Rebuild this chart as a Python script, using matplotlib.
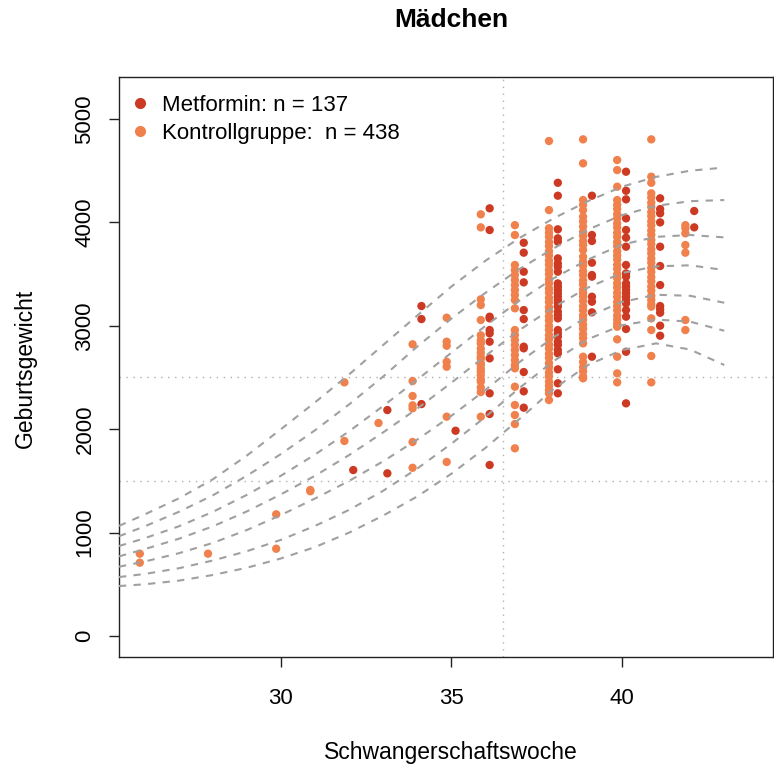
import matplotlib
matplotlib.use("Agg")
import matplotlib.pyplot as plt
from matplotlib.lines import Line2D

plt.rcParams['font.family'] = ['Liberation Sans', 'DejaVu Sans']

# ---------------- data ----------------
title = "Mädchen"
xlabel = "Schwangerschaftswoche"
ylabel = "Geburtsgewicht"
legend_labels = ["Metformin: n = 137", "Kontrollgruppe:  n = 438"]
xticks = [30, 35, 40]
yticks = [0, 1000, 2000, 3000, 4000, 5000]

# percentile curves (weeks, weights)
curve_weeks = [25.25, 26, 27, 28, 29, 30, 31, 32, 33, 34, 35, 36, 37, 38, 39, 40, 41, 42, 43]
p97 = [1065, 1175, 1330, 1515, 1745, 2000, 2260, 2530, 2815, 3100, 3380, 3630, 3850, 4040, 4205, 4345, 4440, 4500, 4530]
p90 = [965, 1060, 1200, 1360, 1550, 1760, 1990, 2240, 2510, 2800, 3070, 3320, 3550, 3750, 3930, 4070, 4160, 4205, 4216]
p75 = [870, 945, 1060, 1200, 1365, 1550, 1755, 1980, 2225, 2480, 2740, 3000, 3245, 3460, 3640, 3785, 3860, 3878, 3855]
p50 = [770, 840, 940, 1060, 1205, 1370, 1550, 1750, 1970, 2200, 2450, 2710, 2960, 3180, 3370, 3510, 3575, 3585, 3539]
p25 = [670, 720, 800, 900, 1025, 1170, 1330, 1500, 1690, 1900, 2130, 2380, 2650, 2890, 3090, 3230, 3300, 3290, 3223]
p10 = [570, 600, 655, 730, 820, 930, 1065, 1220, 1405, 1620, 1860, 2120, 2400, 2660, 2870, 3005, 3060, 3040, 2952]
p3 = [483, 500, 535, 590, 660, 750, 860, 1000, 1165, 1350, 1570, 1820, 2100, 2390, 2620, 2765, 2830, 2770, 2621]

ref_week = 36.5
ref_weights = [1500, 2500]

# Kontrollgruppe weights by gestational week
ctrl_26 = [796, 709]
ctrl_28 = [796]
ctrl_30 = [1177, 844]
ctrl_31 = [1412, 1400]
ctrl_32 = [2453, 1886]
ctrl_33 = [2060]
ctrl_34 = [2821, 2466, 2321, 2231, 2202, 1876, 1627]
ctrl_35 = [3078, 2846, 2807, 2652, 2604, 2121, 1683]
ctrl_36 = [4078, 3952, 3256, 3201, 3056, 2908, 2860, 2830, 2780, 2740, 2701,
           2680, 2637, 2620, 2585, 2556, 2520, 2480, 2460, 2404, 2359, 2121]
ctrl_37 = [3973, 3878, 3588, 3539, 3491, 3443, 3394, 3346, 3298, 3249, 3169,
           2959, 2911, 2862, 2814, 2766, 2717, 2669, 2621, 2589, 2411, 2234,
           2137, 2050, 1815]
ctrl_38 = [4787, 4119, 3943, 3900, 3860, 3810, 3770, 3720, 3680, 3630, 3590,
           3540, 3500, 3450, 3410, 3360, 3320, 3270, 3230, 3180, 3140, 3090,
           3050, 3000, 2960, 2910, 2870, 2820, 2780, 2730, 2690, 2640, 2600,
           2550, 2510, 2460, 2420, 2380, 2347, 2282]
ctrl_39 = [4803, 4571, 4216, 4170, 4119, 4055, 4010, 3960, 3910, 3870, 3820,
           3780, 3733, 3668, 3620, 3580, 3530, 3490, 3440, 3400, 3350, 3314,
           3281, 3240, 3190, 3150, 3100, 3060, 3010, 2970, 2920, 2880, 2830,
           2701, 2650, 2600, 2560, 2510, 2492]
ctrl_40 = [4603, 4506, 4345, 4216, 4170, 4130, 4080, 4040, 3990, 3950, 3900,
           3860, 3810, 3770, 3720, 3680, 3640, 3590, 3550, 3500, 3460, 3410,
           3370, 3320, 3280, 3230, 3190, 3150, 3100, 3060, 3020, 2991, 2869,
           2701, 2540, 2453]
ctrl_41 = [4803, 4442, 4383, 4281, 4240, 4190, 4150, 4100, 4060, 4010, 3970,
           3920, 3880, 3830, 3790, 3740, 3700, 3650, 3610, 3560, 3520, 3470,
           3430, 3380, 3340, 3290, 3250, 3210, 3185, 3072, 2959, 2708, 2453]
ctrl_42 = [3973, 3943, 3894, 3781, 3707, 3056, 2959]

# Metformin weights by gestational week
met_32 = [1605]
met_33 = [2185, 1573]
met_34 = [3191, 3065, 2243]
met_35 = [1985]
met_36 = [4136, 3926, 3088, 3072, 2959, 2927, 2846, 2685, 2347, 2147, 1654]
met_37 = [3803, 3707, 3523, 3420, 3152, 3065, 2798, 2782, 2553, 2366, 2208]
met_38 = [4383, 4258, 3933, 3846, 3813, 3652, 3604, 3571, 3523, 3410, 3378,
          3346, 3314, 3281, 3249, 3217, 3185, 3137, 3104, 3072, 2959, 2927,
          2895, 2846, 2814, 2766, 2733, 2579, 2444, 2347]
met_39 = [4258, 3878, 3820, 3610, 3491, 3475, 3281, 3233, 3130, 2701]
met_40 = [4490, 4306, 4223, 4039, 3926, 3852, 3765, 3588, 3507, 3475, 3410,
          3378, 3346, 3314, 3281, 3249, 3217, 3152, 3088, 2969, 2749, 2250]
met_41 = [4233, 4129, 4088, 4000, 3765, 3578, 3394, 3191, 3159, 3126, 3001, 2904]
met_42 = [4110, 3952]

ctrl_groups = [(26, ctrl_26), (28, ctrl_28), (30, ctrl_30), (31, ctrl_31),
               (32, ctrl_32), (33, ctrl_33), (34, ctrl_34), (35, ctrl_35),
               (36, ctrl_36), (37, ctrl_37), (38, ctrl_38), (39, ctrl_39),
               (40, ctrl_40), (41, ctrl_41), (42, ctrl_42)]
met_groups = [(32, met_32), (33, met_33), (34, met_34), (35, met_35),
              (36, met_36), (37, met_37), (38, met_38), (39, met_39),
              (40, met_40), (41, met_41), (42, met_42)]

# ---------------- style ----------------
col_met = "#CD3A24"
col_ctrl = "#F0804C"
curve_col = "#A0A0A0"
ref_col = "#B0B0B0"
ctrl_offset = -0.14
met_offset = 0.12

fig = plt.figure(figsize=(7.74, 7.71), dpi=100)
ax = fig.add_axes([119 / 774, 1 - 657 / 771, (773 - 119) / 774, (657 - 77) / 771])

# reference lines
ax.axvline(ref_week, color=ref_col, lw=1.0, ls=(0, (1, 4)), zorder=1)
for w in ref_weights:
    ax.axhline(w, color=ref_col, lw=1.0, ls=(0, (1, 4)), zorder=1)

# points
cx, cy = [], []
for wk, vals in ctrl_groups:
    cx += [wk + ctrl_offset] * len(vals)
    cy += vals
mx, my = [], []
for wk, vals in met_groups:
    mx += [wk + met_offset] * len(vals)
    my += vals
ax.scatter(cx, cy, s=36, color=col_ctrl, edgecolors='none', zorder=2)
ax.scatter(mx, my, s=36, color=col_met, edgecolors='none', zorder=2)

# percentile curves
for c in [p97, p90, p75, p50, p25, p10, p3]:
    ax.plot(curve_weeks, c, color=curve_col, lw=1.5, ls=(0, (3.5, 3.5)), zorder=3)

ax.set_xlim(25.25, 44.43)
ax.set_ylim(-203, 5406)
ax.set_xticks(xticks)
ax.set_xticklabels([str(t) for t in xticks], fontsize=16)
ax.set_yticks(yticks)
ax.set_yticklabels([str(t) for t in yticks], fontsize=16, rotation=90, va='center')
ax.tick_params(axis='both', direction='out', length=7, width=1.0, color='#222222')
ax.tick_params(axis='x', pad=15)
ax.tick_params(axis='y', pad=10)
for s in ax.spines.values():
    s.set_linewidth(1.0)
    s.set_color('#222222')

fig.text(451 / 774, 1 - 20 / 771, title, ha='center', va='center',
         fontsize=19, fontweight='bold')
fig.text(451 / 774, 1 - 752 / 771, xlabel, ha='center', va='center', fontsize=16.5)
fig.text(25 / 774, 1 - 368 / 771, ylabel, ha='center', va='center', fontsize=16.5,
         rotation=90)

handles = [Line2D([], [], ls='none', marker='o', ms=8, color=col_met, mec='none'),
           Line2D([], [], ls='none', marker='o', ms=8, color=col_ctrl, mec='none')]
ax.legend(handles, legend_labels, loc='upper left', bbox_to_anchor=(-6 / 654, 1.0),
          frameon=False, fontsize=16, handlelength=0.8, handletextpad=0.6,
          labelspacing=0.32, borderpad=0.3, borderaxespad=0.5)

fig.savefig("out.png", dpi=100)
